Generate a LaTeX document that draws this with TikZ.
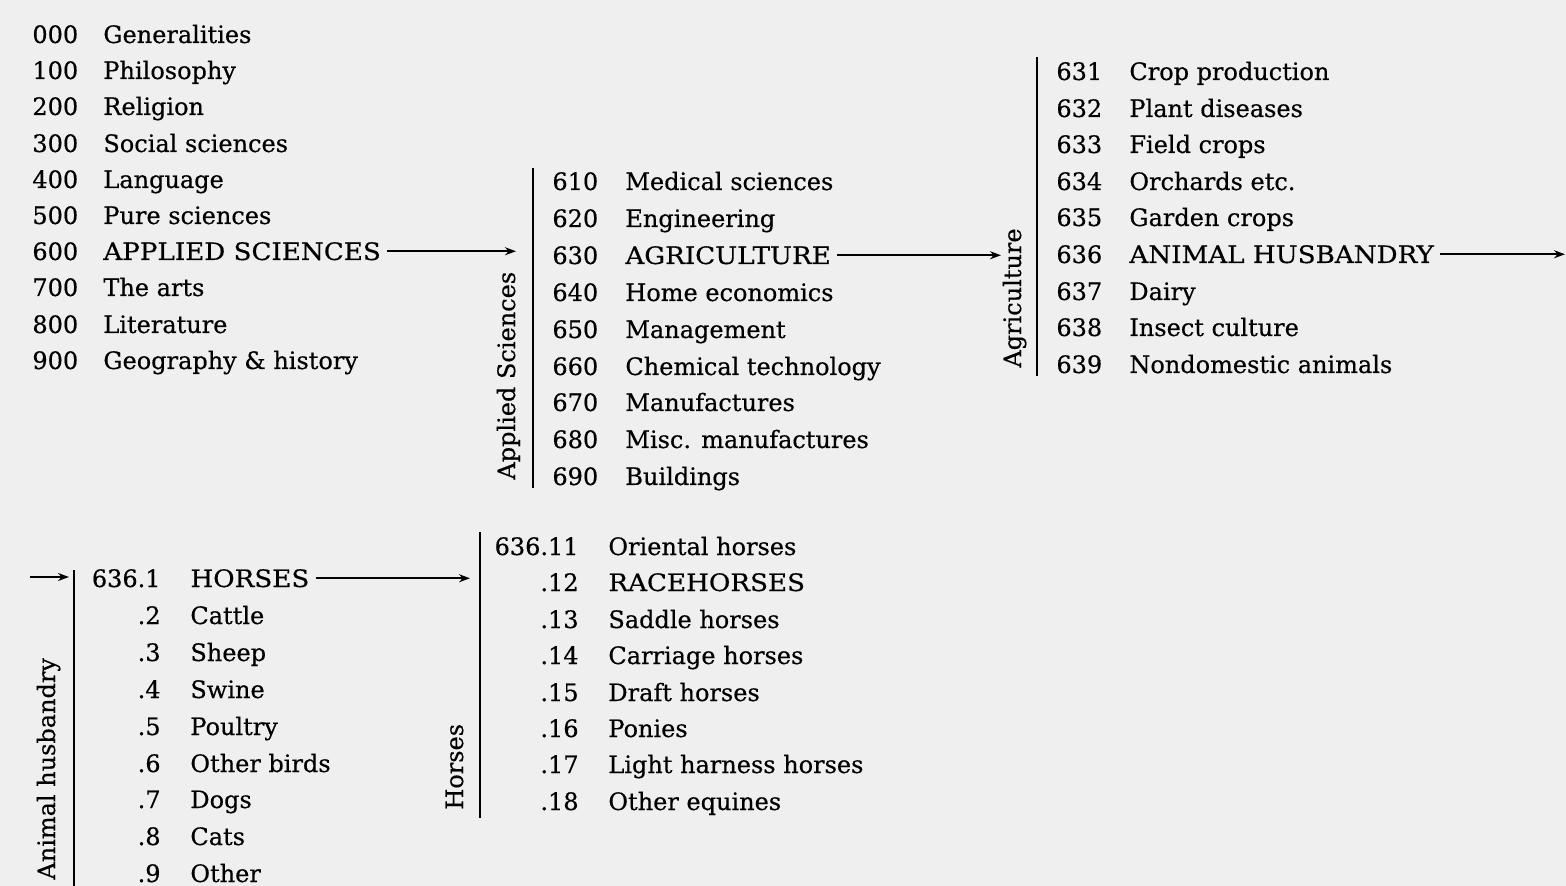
\documentclass[tikz,border=0pt]{standalone}
\usepackage{fontspec}
\setmainfont{DejaVu Serif}[FakeBold=0.4]
\usetikzlibrary{arrows.meta,positioning}
\definecolor{paper}{HTML}{EFEFEF}
\newcommand{\widecaps}[1]{\scalebox{1.09}[1]{#1}}

\begin{document}
\begin{tikzpicture}[x=0.5pt, y=-0.5pt,
    num/.style={anchor=base west, inner sep=0pt, font=\fontsize{12}{14}\selectfont},
    rnum/.style={num, anchor=base east},
    entry/.style={anchor=base west, inner sep=0pt, font=\fontsize{12}{14}\selectfont},
    side/.style={rotate=90, anchor=base west, inner sep=0pt, font=\fontsize{12}{14}\selectfont},
    bar/.style={line width=1.2pt},
    arrow/.style={-{Stealth[length=5.5pt, width=4pt]}, line width=0.9pt, shorten <=3pt}
]
    \fill[paper] (0,0) rectangle (1566,886);
    \useasboundingbox (0,0) rectangle (1566,886);

    % Main classes
    \node[num] (n000) at (32,43) {000};  \node[entry] (t000) at (103,43) {Generalities};
    \node[num] (n100) at (32,79) {100};  \node[entry] (t100) at (103,79) {Philosophy};
    \node[num] (n200) at (32,115) {200}; \node[entry] (t200) at (103,115) {Religion};
    \node[num] (n300) at (32,152) {300}; \node[entry] (t300) at (103,152) {Social sciences};
    \node[num] (n400) at (32,188) {400}; \node[entry] (t400) at (103,188) {Language};
    \node[num] (n500) at (32,224) {500}; \node[entry] (t500) at (103,224) {Pure sciences};
    \node[num] (n600) at (32,260) {600}; \node[entry] (t600) at (103,260) {\widecaps{APPLIED SCIENCES}};
    \node[num] (n700) at (32,296) {700}; \node[entry] (t700) at (103,296) {The arts};
    \node[num] (n800) at (32,333) {800}; \node[entry] (t800) at (103,333) {Literature};
    \node[num] (n900) at (32,369) {900}; \node[entry] (t900) at (103,369) {Geography \& history};

    % Applied sciences
    \draw[bar] (533,168) -- (533,488);
    \node[side] (sApplied) at (515,480) {Applied Sciences};
    \node[num] (n610) at (552,190) {610}; \node[entry] (t610) at (625,190) {Medical sciences};
    \node[num] (n620) at (552,227) {620}; \node[entry] (t620) at (625,227) {Engineering};
    \node[num] (n630) at (552,264) {630}; \node[entry] (t630) at (625,264) {\widecaps{AGRICULTURE}};
    \node[num] (n640) at (552,301) {640}; \node[entry] (t640) at (625,301) {Home economics};
    \node[num] (n650) at (552,338) {650}; \node[entry] (t650) at (625,338) {Management};
    \node[num] (n660) at (552,375) {660}; \node[entry] (t660) at (625,375) {Chemical technology};
    \node[num] (n670) at (552,411) {670}; \node[entry] (t670) at (625,411) {Manufactures};
    \node[num] (n680) at (552,448) {680}; \node[entry] (t680) at (625,448) {Misc. manufactures};
    \node[num] (n690) at (552,485) {690}; \node[entry] (t690) at (625,485) {Buildings};

    % Agriculture
    \draw[bar] (1037,57) -- (1037,376);
    \node[side] (sAgri) at (1021,368) {Agriculture};
    \node[num] (n631) at (1056,80) {631};  \node[entry] (t631) at (1129,80) {Crop production};
    \node[num] (n632) at (1056,117) {632}; \node[entry] (t632) at (1129,117) {Plant diseases};
    \node[num] (n633) at (1056,153) {633}; \node[entry] (t633) at (1129,153) {Field crops};
    \node[num] (n634) at (1056,190) {634}; \node[entry] (t634) at (1129,190) {Orchards etc.};
    \node[num] (n635) at (1056,226) {635}; \node[entry] (t635) at (1129,226) {Garden crops};
    \node[num] (n636) at (1056,263) {636}; \node[entry] (t636) at (1129,263) {\widecaps{ANIMAL HUSBANDRY}};
    \node[num] (n637) at (1056,300) {637}; \node[entry] (t637) at (1129,300) {Dairy};
    \node[num] (n638) at (1056,336) {638}; \node[entry] (t638) at (1129,336) {Insect culture};
    \node[num] (n639) at (1056,373) {639}; \node[entry] (t639) at (1129,373) {Nondomestic animals};

    % Animal husbandry
    \draw[bar] (74,570) -- (74,886);
    \node[side] (sAnimal) at (55,880) {Animal husbandry};
    \node[rnum] (n636x1) at (161,587) {636.1}; \node[entry] (t636x1) at (190,587) {\widecaps{HORSES}};
    \node[rnum] (n636x2) at (161,624) {.2};    \node[entry] (t636x2) at (190,624) {Cattle};
    \node[rnum] (n636x3) at (161,661) {.3};    \node[entry] (t636x3) at (190,661) {Sheep};
    \node[rnum] (n636x4) at (161,698) {.4};    \node[entry] (t636x4) at (190,698) {Swine};
    \node[rnum] (n636x5) at (161,735) {.5};    \node[entry] (t636x5) at (190,735) {Poultry};
    \node[rnum] (n636x6) at (161,772) {.6};    \node[entry] (t636x6) at (190,772) {Other birds};
    \node[rnum] (n636x7) at (161,808) {.7};    \node[entry] (t636x7) at (190,808) {Dogs};
    \node[rnum] (n636x8) at (161,845) {.8};    \node[entry] (t636x8) at (190,845) {Cats};
    \node[rnum] (n636x9) at (161,882) {.9};    \node[entry] (t636x9) at (190,882) {Other};

    % Horses
    \draw[bar] (480,532) -- (480,818);
    \node[side] (sHorses) at (463,810) {Horses};
    \node[rnum] (n636x11) at (579,555) {636.11}; \node[entry] (t636x11) at (608,555) {Oriental horses};
    \node[rnum] (n636x12) at (579,591) {.12};    \node[entry] (t636x12) at (608,591) {\widecaps{RACEHORSES}};
    \node[rnum] (n636x13) at (579,628) {.13};    \node[entry] (t636x13) at (608,628) {Saddle horses};
    \node[rnum] (n636x14) at (579,664) {.14};    \node[entry] (t636x14) at (608,664) {Carriage horses};
    \node[rnum] (n636x15) at (579,701) {.15};    \node[entry] (t636x15) at (608,701) {Draft horses};
    \node[rnum] (n636x16) at (579,737) {.16};    \node[entry] (t636x16) at (608,737) {Ponies};
    \node[rnum] (n636x17) at (579,773) {.17};    \node[entry] (t636x17) at (608,773) {Light harness horses};
    \node[rnum] (n636x18) at (579,810) {.18};    \node[entry] (t636x18) at (608,810) {Other equines};

    % Arrows
    \coordinate (toApplied) at (516,251);
    \coordinate (toAgri) at (1001,254);
    \coordinate (toAnimal) at (1565,254);
    \coordinate (fromTop) at (30,577);
    \coordinate (toAnimalRow) at (69,577);
    \coordinate (toHorses) at (470,577);
    \draw[arrow] (t600.east) -- (t600.east -| toApplied);
    \draw[arrow] (t630.east) -- (t630.east -| toAgri);
    \draw[arrow] (t636.east) -- (t636.east -| toAnimal);
    \draw[arrow, shorten <=0pt] (fromTop) -- (toAnimalRow);
    \draw[arrow] (t636x1.east) -- (t636x1.east -| toHorses);
\end{tikzpicture}
\end{document}
